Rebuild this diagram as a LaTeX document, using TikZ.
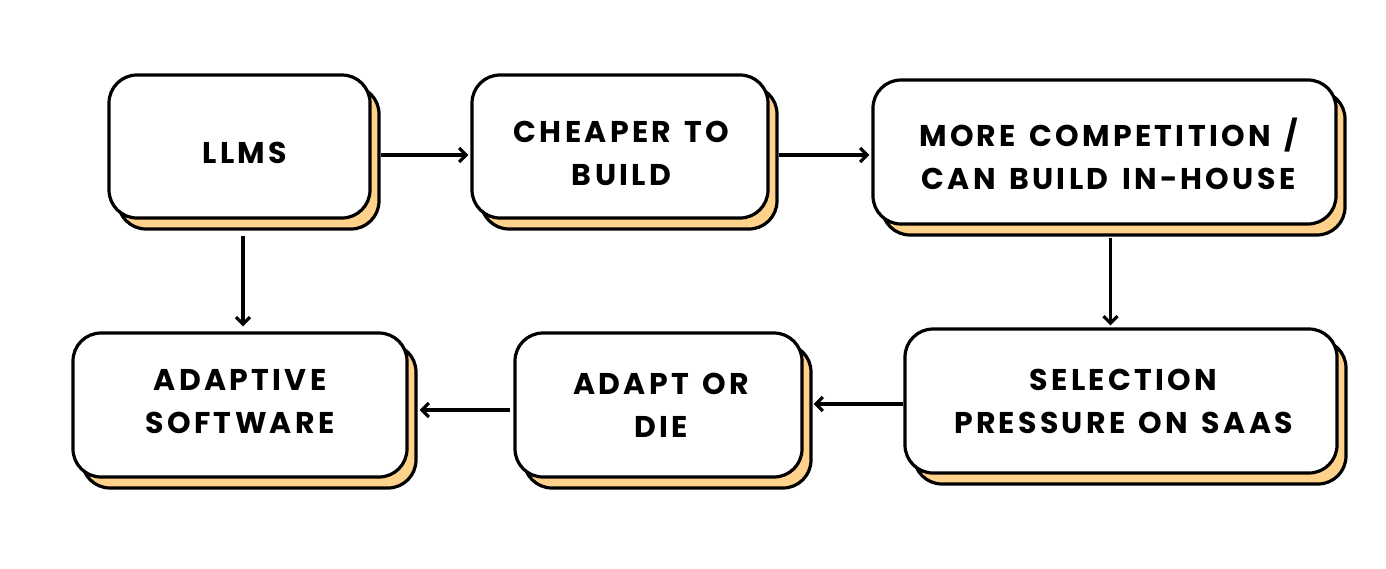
\documentclass[tikz,border=0pt]{standalone}
\usepackage{fontspec}
\setmainfont{Poppins}[LetterSpace=11,WordSpace=1.4]
\usetikzlibrary{arrows.meta,calc}
\definecolor{shade}{HTML}{FFD28C}
\tikzset{
  front/.style={draw=black,line width=3.2pt,fill=white,rounded corners=28pt,inner sep=0pt},
  back/.style={draw=black,line width=3.2pt,fill=shade,rounded corners=28pt,inner sep=0pt},
  lbl/.style={align=center,inner sep=0pt,font=\fontsize{30}{43}\selectfont\bfseries},
  arr/.style={line width=3.2pt,-{Straight Barb[length=7pt,width=14pt,line width=3.2pt]}}
}
\newcommand{\mybox}[8]{%
  \node[back,minimum width={#3-#1},minimum height={#4-#2}] (s#5) at ({(#1+#3)/2+9},{(#2+#4)/2+11}) {};
  \node[front,minimum width={#3-#1},minimum height={#4-#2}] (b#5) at ({(#1+#3)/2},{(#2+#4)/2}) {};
  \node[lbl] (t#5) at (#6,#7) {#8};
}
\begin{document}
\begin{tikzpicture}[x=1pt,y=-1pt]
\useasboundingbox (0,0) rectangle (1386,568);
\mybox{109}{75}{370}{218}{1}{245}{153}{LLMS}
\mybox{472}{75}{768}{218}{2}{621.5}{153.5}{CHEAPER TO\\BUILD}
\mybox{873}{80}{1336}{224}{3}{1108.5}{153.5}{MORE COMPETITION /\\CAN BUILD IN-HOUSE}
\mybox{73}{333}{407}{477}{4}{240}{401.5}{ADAPTIVE\\SOFTWARE}
\mybox{515}{333}{802}{477}{5}{661}{405.5}{ADAPT OR\\DIE}
\mybox{905}{329}{1337}{473}{6}{1123.5}{401.5}{SELECTION\\PRESSURE ON SAAS}
\coordinate (y12) at (0,155);
\coordinate (y56) at (0,404);
\coordinate (y45) at (0,410);
\draw[arr] (s1.east|-y12) -- ($(b2.west|-y12)+(-2,0)$);
\draw[arr] (s2.east|-y12) -- ($(b3.west|-y12)+(-2,0)$);
\draw[arr] ($(t1|-s1.south)+(-2,5)$) -- ($(t1|-b4.north)+(-2,-5)$);
\draw[arr] ($(t3|-s3.south)+(2,1)$) -- ($(t3|-b6.north)+(2,-2)$);
\draw[arr] (b6.west|-y56) -- ($(s5.east|-y56)+(1,0)$);
\draw[arr] ($(b5.west|-y45)+(-3,0)$) -- ($(s4.east|-y45)+(2,0)$);
\end{tikzpicture}
\end{document}
